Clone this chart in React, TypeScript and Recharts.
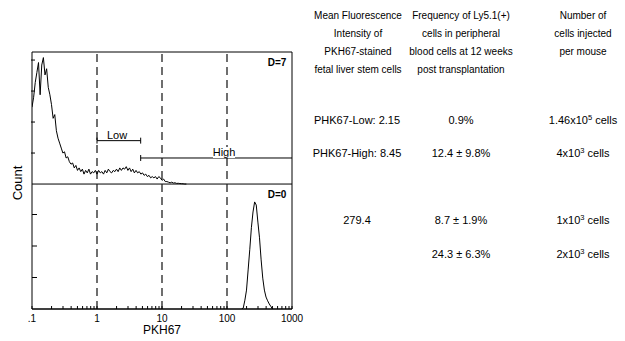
import React from 'react';
import { LineChart, Line, XAxis, YAxis, ReferenceLine, ReferenceArea } from 'recharts';

// PKH67 fluorescence histograms, 40 channels per decade starting at 0.1
const DECADE_BINS = 40;
const X_LABELS = ['.1', '1', '10', '100', '1000'];
const DASHED_AT = [1, 10, 100];

// D=7 counts, channel 0 upward
const TOP_COUNTS = [
  62, 70, 82, 90, 98, 72, 96, 102, 88, 93,
  78, 72, 64, 53, 56, 43, 37, 33, 29, 25,
  26, 21, 22, 18, 16, 17, 13, 15, 11, 13,
  10, 12, 8, 11, 9, 12, 8, 10, 9, 11,
  8, 11, 9, 10, 8, 11, 9, 12, 10, 9,
  11, 10, 12, 10, 13, 11, 13, 12, 14, 11,
  13, 10, 12, 9, 11, 9, 10, 8, 9, 7,
  8, 6, 7, 5, 6, 5, 6, 4, 6, 5,
  3, 4, 2, 2, 1.5, 1, 1.5, 0.8, 1, 0.5,
  0.6, 0.4, 0.3, 0.2, 0, 0,
];

// D=0 counts, starting at channel 129
const BOTTOM_START = 129;
const BOTTOM_COUNTS = [
  0, 1.6, 14, 30, 62, 94, 129, 154, 170, 165,
  138, 113, 78, 49, 30, 19, 13, 8, 4, 0,
];

const TOP_TICKS = [25, 50, 75, 100];
const BOTTOM_TICKS = [50, 100, 150];
const GATE_LOW = [1, 4.7];
const GATE_HIGH = [4.7, 1000];

// table on the right
const HEAD_MFI = ['Mean Fluorescence', 'Intensity of', 'PKH67-stained', 'fetal liver stem cells'];
const HEAD_FREQ = ['Frequency of Ly5.1(+)', 'cells in peripheral', 'blood cells at 12 weeks', 'post transplantation'];
const HEAD_CELLS = ['Number of', 'cells injected', 'per mouse'];
const MFI = ['PHK67-Low: 2.15', 'PHK67-High: 8.45', '279.4', ''];
const FREQ = ['0.9%', '12.4 ± 9.8%', '8.7 ± 1.9%', '24.3 ± 6.3%'];
const CELLS = [['1.46x10', '5'], ['4x10', '3'], ['1x10', '3'], ['2x10', '3']];

const toBin = (v: number) => DECADE_BINS * (Math.log10(v) + 1);

const topRows = TOP_COUNTS.map((count, i) => ({ bin: i, count }));
const bottomRows = BOTTOM_COUNTS.map((count, i) => ({ bin: BOTTOM_START + i, count }));

// log ticks: 1..9 of every decade, labels only on the decades
const xTicks: number[] = [];
for (let d = 0; d < 4; d++) {
  for (let k = 1; k <= 9; k++) xTicks.push(DECADE_BINS * (d + Math.log10(k)));
}
xTicks.push(DECADE_BINS * 4);

const xLabel = (v: number) => {
  const d = v / DECADE_BINS;
  return Math.abs(d - Math.round(d)) < 1e-6 ? X_LABELS[Math.round(d)] : '';
};

const TOP_DOMAIN = [-100.8, 106.5];
const BOTTOM_DOMAIN = [0, 408];

const Txt = ({ x, y, size = 10, bold = false, bg = false, children }: any) => (
  <div
    style={{
      position: 'absolute',
      left: x - 100,
      top: y - 8,
      width: 200,
      lineHeight: '16px',
      textAlign: 'center',
      fontSize: size,
      fontWeight: bold ? 'bold' : 'normal',
      whiteSpace: 'nowrap',
    }}
  >
    <span style={{ background: bg ? '#fff' : 'transparent', lineHeight: '11px', display: 'inline-block' }}>
      {children}
    </span>
  </div>
);

export default function App() {
  const rowY = [119.5, 152.5, 220, 253.5];
  const headY = (i: number) => 15.5 + i * 18.3;
  const gateTick = 2.4;

  return (
    <div
      style={{
        position: 'relative',
        width: 625,
        height: 341,
        background: '#fff',
        color: '#000',
        overflow: 'hidden',
        fontFamily: '"Liberation Sans", Arial, sans-serif',
      }}
    >
      <style>{'body{margin:0}'}</style>
      <div style={{ position: 'absolute', left: 0, top: 0 }}>
        <LineChart width={315} height={341} margin={{ top: 52, right: 23, bottom: 0, left: 30 }}>
          <XAxis
            type="number"
            dataKey="bin"
            domain={[0, 160]}
            allowDataOverflow
            ticks={xTicks}
            interval={0}
            tickFormatter={xLabel}
            tickLine={{ stroke: '#000' }}
            axisLine={{ stroke: '#000' }}
            tickSize={-3}
            tickMargin={9}
            height={32}
            tick={{ fontSize: 10, fill: '#000' }}
            label={{ value: 'PKH67', position: 'insideBottom', offset: 7, fontSize: 12, fill: '#000' }}
          />
          <YAxis
            yAxisId="top"
            type="number"
            domain={TOP_DOMAIN}
            allowDataOverflow
            ticks={TOP_TICKS}
            interval={0}
            width={1}
            axisLine={false}
            tickSize={-4}
            tickFormatter={() => ''}
            tickLine={{ stroke: '#000' }}
          />
          <YAxis
            yAxisId="bottom"
            type="number"
            domain={BOTTOM_DOMAIN}
            allowDataOverflow
            ticks={BOTTOM_TICKS}
            interval={0}
            width={1}
            axisLine={false}
            tickSize={-5}
            tickFormatter={() => ''}
            tickLine={{ stroke: '#000' }}
          />
          <ReferenceArea
            yAxisId="top"
            x1={0}
            x2={160}
            y1={TOP_DOMAIN[0]}
            y2={TOP_DOMAIN[1]}
            fill="none"
            stroke="#000"
            strokeWidth={1}
          />
          <ReferenceLine yAxisId="top" y={0} stroke="#000" />
          {DASHED_AT.map((v) => (
            <ReferenceLine key={v} yAxisId="top" x={toBin(v)} stroke="#222" strokeWidth={1.3} strokeDasharray="8 5" />
          ))}
          {/* gates */}
          <ReferenceLine
            yAxisId="top"
            segment={[{ x: toBin(GATE_LOW[0]), y: 35 }, { x: toBin(GATE_LOW[1]), y: 35 }]}
            stroke="#000"
          />
          {GATE_LOW.map((v) => (
            <ReferenceLine
              key={'l' + v}
              yAxisId="top"
              segment={[{ x: toBin(v), y: 35 - gateTick }, { x: toBin(v), y: 35 + gateTick }]}
              stroke="#000"
            />
          ))}
          <ReferenceLine
            yAxisId="top"
            segment={[{ x: toBin(GATE_HIGH[0]), y: 21 }, { x: toBin(GATE_HIGH[1]), y: 21 }]}
            stroke="#000"
          />
          <ReferenceLine
            yAxisId="top"
            segment={[{ x: toBin(GATE_HIGH[0]), y: 21 - gateTick }, { x: toBin(GATE_HIGH[0]), y: 21 + gateTick }]}
            stroke="#000"
          />
          <Line
            data={topRows}
            dataKey="count"
            yAxisId="top"
            type="linear"
            stroke="#000"
            strokeWidth={1}
            dot={false}
            isAnimationActive={false}
          />
          <Line
            data={bottomRows}
            dataKey="count"
            yAxisId="bottom"
            type="linear"
            stroke="#000"
            strokeWidth={1}
            dot={false}
            isAnimationActive={false}
          />
        </LineChart>
      </div>

      <div
        style={{
          position: 'absolute',
          left: 17,
          top: 183,
          fontSize: 13,
          transform: 'translate(-50%, -50%) rotate(-90deg)',
        }}
      >
        Count
      </div>
      <Txt x={277} y={62.5} bold>D=7</Txt>
      <Txt x={277} y={194.5} bold>D=0</Txt>
      <Txt x={117} y={135} size={11}>Low</Txt>
      <Txt x={224} y={151.5} size={11} bg>High</Txt>

      {HEAD_MFI.map((t, i) => (
        <Txt key={t} x={358} y={headY(i)}>{t}</Txt>
      ))}
      {HEAD_FREQ.map((t, i) => (
        <Txt key={t} x={461} y={headY(i)}>{t}</Txt>
      ))}
      {HEAD_CELLS.map((t, i) => (
        <Txt key={t} x={583} y={headY(i)}>{t}</Txt>
      ))}
      {rowY.map((y, i) => (
        <React.Fragment key={i}>
          <Txt x={357} y={y} size={11}>{MFI[i]}</Txt>
          <Txt x={461} y={y} size={11}>{FREQ[i]}</Txt>
          <Txt x={583} y={y} size={11}>
            {CELLS[i][0]}
            <span style={{ fontSize: 7.5, position: 'relative', top: -4 }}>{CELLS[i][1]}</span> cells
          </Txt>
        </React.Fragment>
      ))}
    </div>
  );
}
